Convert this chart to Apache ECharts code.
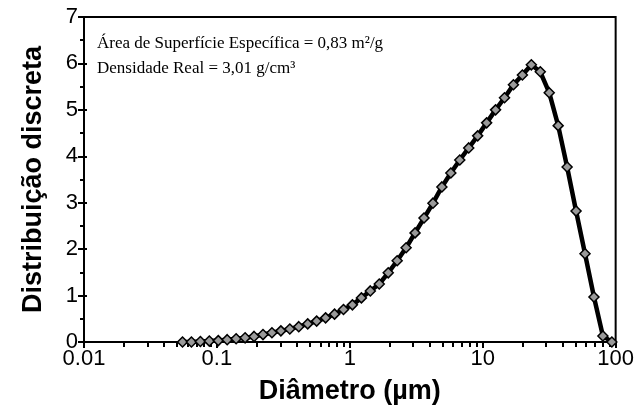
<!DOCTYPE html>
<html>
<head>
<meta charset="utf-8">
<script src="https://cdn.jsdelivr.net/npm/echarts@6/dist/echarts.min.js"></script>
<style>
  html, body { margin: 0; padding: 0; background: #fff; }
  #chart { width: 637px; height: 411px; }
</style>
</head>
<body>
<div id="chart"></div>
<script>
// diametro (um) de cada classe
var diametros = [0.0551, 0.0643, 0.0751, 0.0877, 0.1024, 0.1195, 0.1395, 0.1630, 0.1903, 0.2222,
    0.2594, 0.3029, 0.3536, 0.4129, 0.4821, 0.5629, 0.6572, 0.7674, 0.8960, 1.046,
    1.222, 1.426, 1.665, 1.945, 2.271, 2.651, 3.096, 3.615, 4.221, 4.928,
    5.754, 6.719, 7.845, 9.161, 10.70, 12.49, 14.58, 17.02, 19.88, 23.21,
    27.10, 31.64, 36.95, 43.14, 50.37, 58.82, 68.68, 80.19, 93.63];
// distribuicao discreta (%)
var distribuicao = [0.00, 0.00, 0.01, 0.02, 0.03, 0.05, 0.07, 0.09, 0.12, 0.16,
    0.20, 0.24, 0.28, 0.33, 0.39, 0.45, 0.52, 0.60, 0.70, 0.80,
    0.95, 1.10, 1.25, 1.49, 1.75, 2.03, 2.35, 2.67, 2.99, 3.34,
    3.64, 3.92, 4.18, 4.44, 4.72, 5.00, 5.26, 5.54, 5.75, 5.97,
    5.82, 5.37, 4.66, 3.77, 2.82, 1.90, 0.97, 0.13, 0.00];
var ticksMenores = [0.02, 0.03, 0.04, 0.05, 0.06, 0.07, 0.08, 0.09,
    0.2, 0.3, 0.4, 0.5, 0.6, 0.7, 0.8, 0.9,
    2, 3, 4, 5, 6, 7, 8, 9,
    20, 30, 40, 50, 60, 70, 80, 90];
var anotacoes = ['Área de Superfície Específica = 0,83 m²/g', 'Densidade Real = 3,01 g/cm³'];

var chart = echarts.init(document.getElementById('chart'));

var fonte = 'Liberation Sans, Arial';

chart.setOption({
    animation: false,
    grid: { left: 84, right: 19, top: 17, bottom: 69, show: true, borderColor: '#000', borderWidth: 2 },
    xAxis: [{
        type: 'log', logBase: 10, min: 0.01, max: 100,
        name: 'Diâmetro (µm)', nameLocation: 'middle', nameGap: 36,
        nameTextStyle: { fontFamily: fonte, fontSize: 27, fontWeight: 'bold', color: '#000' },
        axisLine: { lineStyle: { color: '#000', width: 2 } },
        axisTick: { length: 6, lineStyle: { color: '#000', width: 2 } },
        axisLabel: {
            margin: 6, fontFamily: fonte, fontSize: 22, color: '#000',
            formatter: function (v) { return String(v); }
        },
        splitLine: { show: false }
    }, {
        type: 'log', logBase: 10, min: 0.01, max: 100, position: 'bottom',
        axisLine: { show: false },
        axisTick: { length: 5, customValues: ticksMenores, lineStyle: { color: '#000', width: 2 } },
        axisLabel: { show: false },
        splitLine: { show: false }
    }],
    yAxis: [{
        type: 'value', min: 0, max: 7, interval: 1,
        name: 'Distribuição discreta', nameLocation: 'middle', nameGap: 37, nameRotate: 90,
        nameTextStyle: { fontFamily: fonte, fontSize: 27, fontWeight: 'bold', color: '#000' },
        axisLine: { show: true, lineStyle: { color: '#000', width: 2 } },
        axisTick: { show: true, length: 6, lineStyle: { color: '#000', width: 2 } },
        minorTick: { show: true, splitNumber: 2, length: 4, lineStyle: { color: '#000', width: 2 } },
        axisLabel: { margin: 6, fontFamily: fonte, fontSize: 22, color: '#000' },
        splitLine: { show: false }
    }, {
        type: 'value', min: 0, max: 7, interval: 1, position: 'left',
        axisLine: { show: false },
        axisTick: { show: true, inside: true, length: 3, lineStyle: { color: '#000', width: 2 } },
        axisLabel: { show: false },
        splitLine: { show: false }
    }],
    graphic: [{
        type: 'text', left: 97, top: 35,
        style: { text: anotacoes[0], font: '17px "Liberation Serif", serif', fill: '#000' }
    }, {
        type: 'text', left: 97, top: 60,
        style: { text: anotacoes[1], font: '17px "Liberation Serif", serif', fill: '#000' }
    }],
    series: [{
        type: 'line',
        data: diametros.map(function (d, i) { return [d, distribuicao[i]]; }),
        lineStyle: { color: '#000', width: 4.5 },
        symbol: 'diamond', symbolSize: 10,
        itemStyle: { color: '#9a9a9a', borderColor: '#000', borderWidth: 1.5 },
        z: 5
    }]
});
</script>
</body>
</html>
